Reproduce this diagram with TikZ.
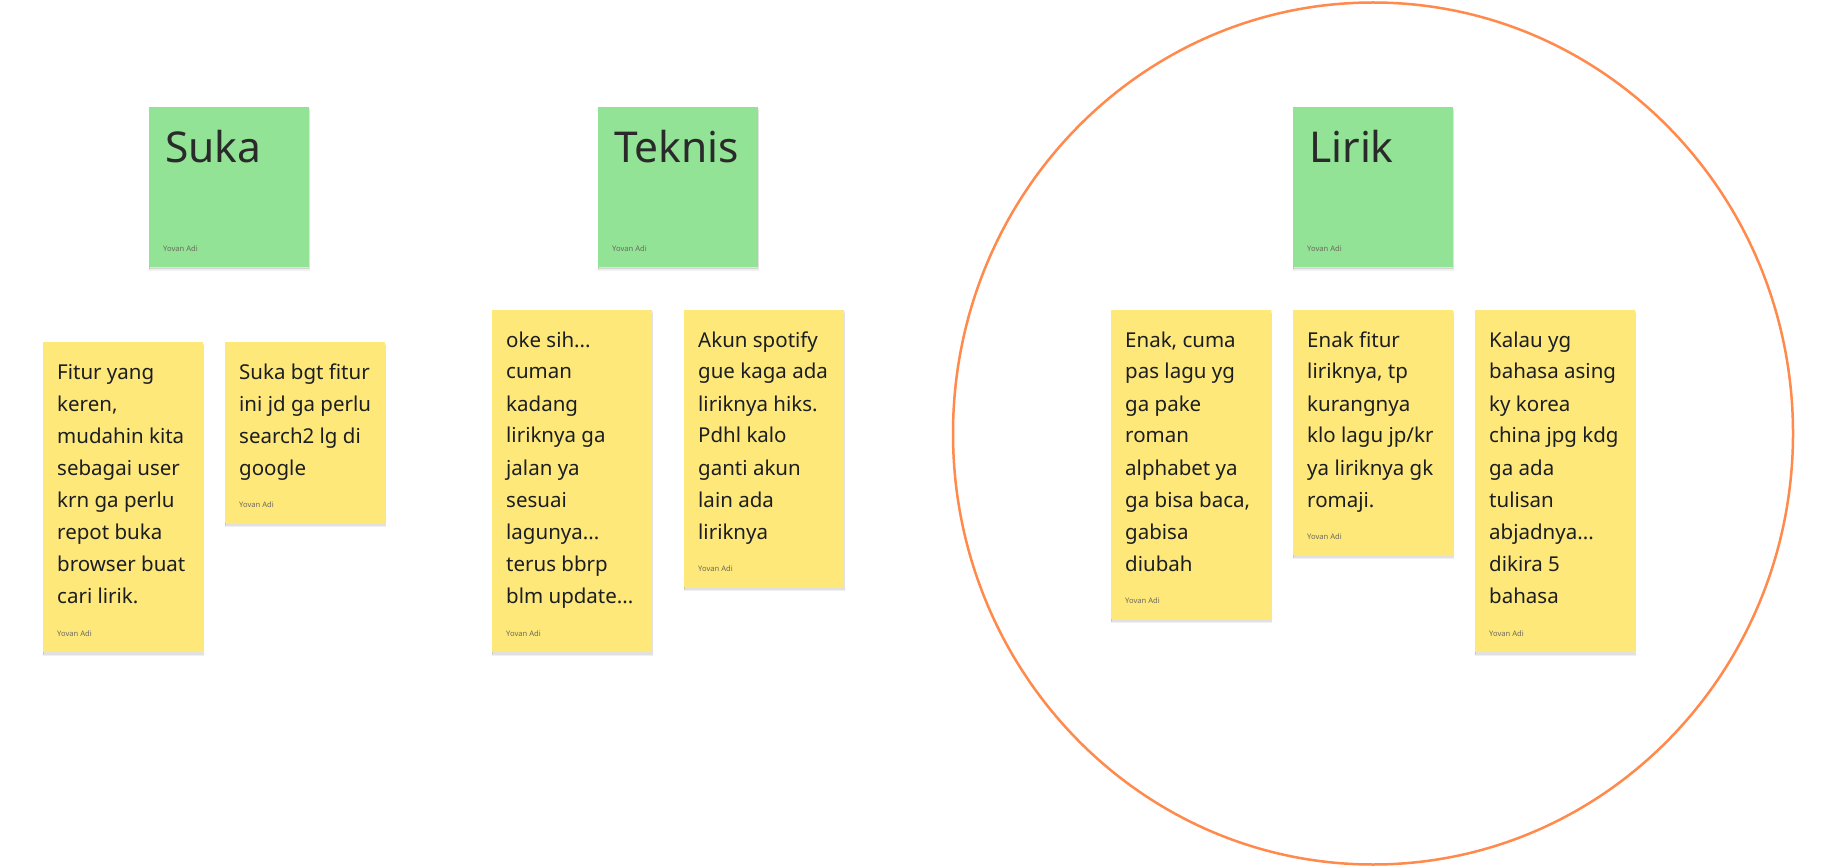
\documentclass[tikz,border=0pt]{standalone}
\usepackage{fontspec}
\setmainfont{Noto Sans}
\usetikzlibrary{shadows,shapes.geometric}
\definecolor{notegreen}{HTML}{93E396}
\definecolor{noteyellow}{HTML}{FFE87A}
\definecolor{inkdark}{HTML}{1B1E22}
\definecolor{inktitle}{HTML}{2A2A2A}
\definecolor{inkgrey}{HTML}{6A6A5E}
\definecolor{ringorange}{HTML}{FF8A4C}
\tikzset{
  note/.style={draw=none, inner sep=0pt, minimum width=160pt, anchor=north west,
    double copy shadow={shadow xshift=0pt, shadow yshift=-1.5pt, opacity=0.06, fill=black}},
  greennote/.style={note, fill=notegreen, minimum height=160pt},
  yellownote/.style={note, fill=noteyellow},
  bodytext/.style={anchor=base west, inner sep=0pt, text=inkdark, font=\fontsize{20.5}{32}\selectfont},
  titletext/.style={anchor=base west, inner sep=0pt, text=inktitle, font=\fontsize{42.5}{50}\selectfont},
  authortext/.style={anchor=base west, inner sep=0pt, text=inkgrey, font=\fontsize{7.6}{9}\selectfont},
}
\newcommand{\lines}[1]{\vtop{\baselineskip=32pt\lineskiplimit=-100pt #1}}
\begin{document}
\begin{tikzpicture}[x=1pt, y=-1pt]
\useasboundingbox (0,0) rectangle (1838,866);
\fill[white] (0,0) rectangle (1838,866);

% orange ring
\node[draw=ringorange, line width=2.5pt, ellipse, minimum width=840pt, minimum height=862pt, inner sep=0pt] (ring) at (1373,433.5) {};

% green headers
\node[greennote] (gsuka) at (149,107) {};
\node[titletext] (gsukat) at ([xshift=16pt, yshift=-56pt]gsuka.north west) {Suka};
\node[authortext] (gsukaa) at ([xshift=14pt, yshift=15.5pt]gsuka.south west) {Yovan Adi};

\node[greennote] (gtek) at (598,107) {};
\node[titletext] (gtekt) at ([xshift=16pt, yshift=-56pt]gtek.north west) {Teknis};
\node[authortext] (gteka) at ([xshift=14pt, yshift=15.5pt]gtek.south west) {Yovan Adi};

\node[greennote] (glir) at (1293,107) {};
\node[titletext] (glirt) at ([xshift=16pt, yshift=-56pt]glir.north west) {Lirik};
\node[authortext] (glira) at ([xshift=14pt, yshift=15.5pt]glir.south west) {Yovan Adi};

% yellow notes
\node[yellownote, minimum height=310pt] (f1) at (43,342) {};
\node[bodytext] (f1t) at ([xshift=14pt, yshift=-37pt]f1.north west) {\lines{\hbox{Fitur yang}\hbox{keren,}\hbox{mudahin kita}\hbox{sebagai user}\hbox{krn ga perlu}\hbox{repot buka}\hbox{browser buat}\hbox{cari lirik.}}};
\node[authortext] (f1a) at ([xshift=14pt, yshift=16pt]f1.south west) {Yovan Adi};

\node[yellownote, minimum height=181pt] (f2) at (225,342) {};
\node[bodytext] (f2t) at ([xshift=14pt, yshift=-37pt]f2.north west) {\lines{\hbox{Suka bgt fitur}\hbox{ini jd ga perlu}\hbox{search2 lg di}\hbox{google}}};
\node[authortext] (f2a) at ([xshift=14pt, yshift=16pt]f2.south west) {Yovan Adi};

\node[yellownote, minimum height=342pt] (t1) at (492,310) {};
\node[bodytext] (t1t) at ([xshift=14pt, yshift=-37pt]t1.north west) {\lines{\hbox{oke sih...}\hbox{cuman}\hbox{kadang}\hbox{liriknya ga}\hbox{jalan ya}\hbox{sesuai}\hbox{lagunya...}\hbox{terus bbrp}\hbox{blm update...}}};
\node[authortext] (t1a) at ([xshift=14pt, yshift=16pt]t1.south west) {Yovan Adi};

\node[yellownote, minimum height=277pt] (t2) at (684,310) {};
\node[bodytext] (t2t) at ([xshift=14pt, yshift=-37pt]t2.north west) {\lines{\hbox{Akun spotify}\hbox{gue kaga ada}\hbox{liriknya hiks.}\hbox{Pdhl kalo}\hbox{ganti akun}\hbox{lain ada}\hbox{liriknya}}};
\node[authortext] (t2a) at ([xshift=14pt, yshift=16pt]t2.south west) {Yovan Adi};

\node[yellownote, minimum height=309pt] (l1) at (1111,310) {};
\node[bodytext] (l1t) at ([xshift=14pt, yshift=-37pt]l1.north west) {\lines{\hbox{Enak, cuma}\hbox{pas lagu yg}\hbox{ga pake}\hbox{roman}\hbox{alphabet ya}\hbox{ga bisa baca,}\hbox{gabisa}\hbox{diubah}}};
\node[authortext] (l1a) at ([xshift=14pt, yshift=16pt]l1.south west) {Yovan Adi};

\node[yellownote, minimum height=245pt] (l2) at (1293,310) {};
\node[bodytext] (l2t) at ([xshift=14pt, yshift=-37pt]l2.north west) {\lines{\hbox{Enak fitur}\hbox{liriknya, tp}\hbox{kurangnya}\hbox{klo lagu jp/kr}\hbox{ya liriknya gk}\hbox{romaji.}}};
\node[authortext] (l2a) at ([xshift=14pt, yshift=16pt]l2.south west) {Yovan Adi};

\node[yellownote, minimum height=342pt] (l3) at (1475,310) {};
\node[bodytext] (l3t) at ([xshift=14pt, yshift=-37pt]l3.north west) {\lines{\hbox{Kalau yg}\hbox{bahasa asing}\hbox{ky korea}\hbox{china jpg kdg}\hbox{ga ada}\hbox{tulisan}\hbox{abjadnya...}\hbox{dikira 5}\hbox{bahasa}}};
\node[authortext] (l3a) at ([xshift=14pt, yshift=16pt]l3.south west) {Yovan Adi};
\end{tikzpicture}
\end{document}
